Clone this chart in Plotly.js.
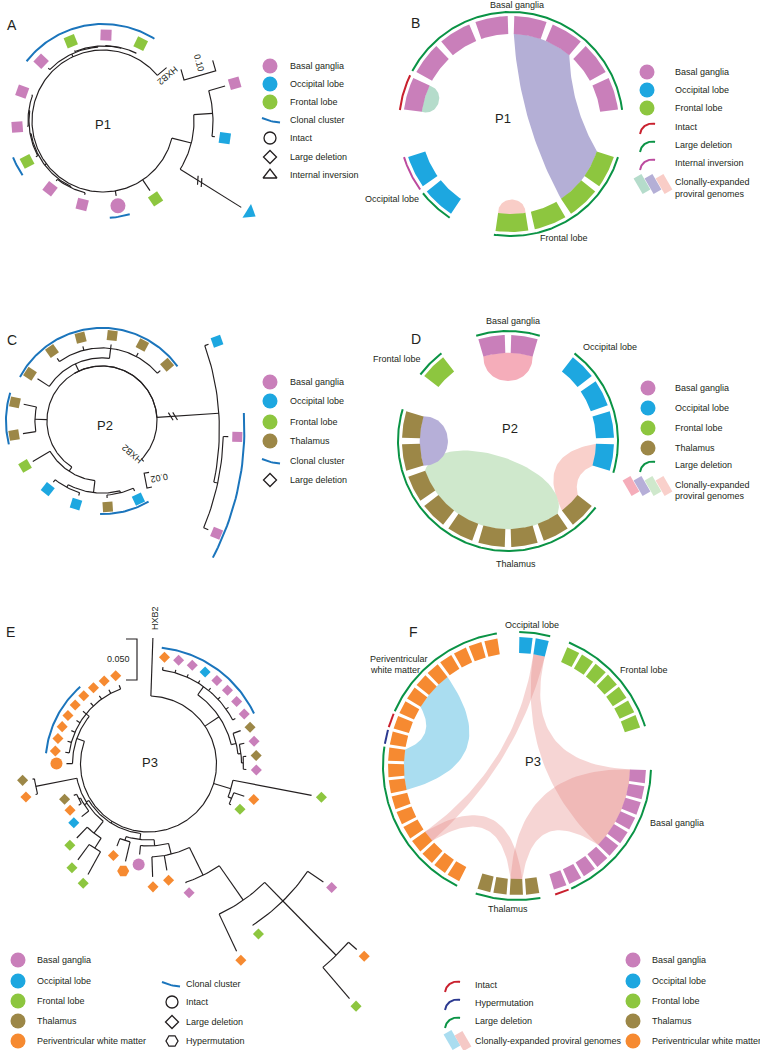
<!DOCTYPE html>
<html>
<head>
<meta charset="utf-8">
<script src="https://cdn.plot.ly/plotly-3.0.1.min.js"></script>
<style>html,body{margin:0;padding:0;background:#fff;}#chart{width:760px;height:1050px;}</style>
</head>
<body>
<div id="chart"></div>
<script>
// ======================= DATA =======================
const tissueCodes  = ["BG","OL","FL","TH","PWM"];
const tissueLabels = ["Basal ganglia","Occipital lobe","Frontal lobe","Thalamus","Periventricular white matter"];
const genomeCodes  = ["I","H","D","V"];
const genomeLabels = ["Intact","Hypermutation","Large deletion","Internal inversion"];
const clonalLabel  = "Clonal cluster";
const cloneLabelLines = ["Clonally-expanded","proviral genomes"];
const cloneLabelOneLine = "Clonally-expanded proviral genomes";

// Phylogenies (Newick). Tip label = tissue_genomeType ; '*' marks a branch drawn with a break.
const treeP1 = "(((BG_D:0.0515,OL_D:0.0091):0.0576,OL_V*:0.45):0.0606,FL_D:0.0394,BG_I:0.0152,((BG_D:0.0061,BG_D:0.0061):0.003,(FL_D:0.0061,(BG_D:0.003,BG_D:0.003):0.003):0.003):0.0061,(BG_D:0.0061,(FL_D:0.003,(BG_D:0.0015,FL_D:0.0015):0.0015):0.003):0.0091,HXB2:0.0364);";
const treeP2 = "(((((OL_D:0.004,TH_D:0.004):0.0027,(OL_D:0.004,OL_D:0.004):0.004):0.016,FL_D:0.0267):0.0067,(TH_D:0.0173,TH_D:0.0173):0.016,(TH_D:0.0187,(TH_D:0.0053,TH_D:0.0053,TH_D:0.0053,TH_D:0.0053,TH_D:0.0053):0.0133):0.0107,(OL_D:0.0053,(BG_D:0.0067,BG_D:0.0067):0.0053)*:0.26):0.0001,HXB2:0.004);";
const treeP3 = "(HXB2:0.0707,((PWM_D:0.0037,BG_D:0.0037,BG_D:0.0037,OL_D:0.0037,BG_D:0.0037,BG_D:0.0037,BG_D:0.0037,BG_D:0.0037):0.0122,(TH_D:0.0098,(BG_D:0.0061,(TH_D:0.0037,BG_D:0.0037):0.0024):0.0037):0.0061):0.0207,(FL_D:0.0976,(PWM_D:0.0134,FL_D:0.0024):0.0049):0.022,(((((((BG_D:0.0232,(PWM_D:0.0134,FL_D:0.05):0.0927,FL_D:0.0006):0.0317,PWM_D:0.05):0.0512,BG_D:0.0012):0.0378,PWM_D:0.0183,PWM_D:0.0244):0.0134,BG_I:0.011):0.0073,(PWM_H:0.0244,PWM_D:0.0098):0.0049):0.0073,(((FL_D:0.0317,FL_D:0.0232):0.0146,FL_D:0.0183):0.0183,(OL_D:0.011,(PWM_D:0.0037,TH_D:0.0037):0.0024):0.0037,(PWM_D:0.0024,TH_D:0.0024):0.0512):0.0037):0.0024,(PWM_I:0.0073,(PWM_D:0.0049,PWM_D:0.0049,PWM_D:0.0049,PWM_D:0.0049,PWM_D:0.0049,PWM_D:0.0049,PWM_D:0.0049,PWM_D:0.0049,PWM_D:0.0049):0.0049):0.0098);";
const clonalTipsP1 = [[4,4],[7,7],[10,13]];
const clonalTipsP2 = [[0,1],[5,6],[7,12],[14,15]];
const clonalTipsP3 = [[0,7],[35,40]];
const scaleBarP1 = 0.10, scaleBarP2 = 0.02, scaleBarP3 = 0.050;

// Circos plots: genomes per tissue (clockwise), genome type per genome, clonal links [grpA,from,to,grpB,from,to]
const circGroupsP1 = ["BG","FL","OL"];
const circCountsP1 = [8,4,2];
const circTypesP1  = ["IDDDDDDD","DDDD","DV"];
const circLinksP1  = [["BG",0,1,"BG",0,1],["BG",4,6,"FL",0,2],["FL",3,4,"FL",3,4]];

const circGroupsP2 = ["BG","OL","TH","FL"];
const circCountsP2 = [2,4,9,1];
const circTypesP2  = ["DD","DDDD","DDDDDDDDD","D"];
const circLinksP2  = [["BG",0,2,"BG",0,2],["OL",3,4,"TH",0,1],["TH",1,7,"TH",1,7],["TH",7,9,"TH",7,9]];

const circGroupsP3 = ["OL","FL","BG","TH","PWM"];
const circCountsP3 = [2,7,10,4,20];
const circTypesP3  = ["DD","DDDDDDD","DDDDDDDDDI","DDDD","DDDDDDDDDDHIDDDDDDDD"];
const circLinksP3  = [["PWM",7,10,"PWM",13,16],["OL",1,2,"PWM",3,4],["OL",1,2,"BG",0,6],["BG",0,6,"TH",1,2],["PWM",3,4,"TH",1,2]];

// ======================= STYLE / LAYOUT =======================
const FONT = "Arial, 'Liberation Sans', Helvetica, sans-serif";
const INK = "#231F20";
const tissueColor = {BG:"#C97FBA", OL:"#1DA7E0", FL:"#8DC63F", TH:"#9C8747", PWM:"#F68A31"};
const typeColor = {I:"#C9202E", H:"#2B3990", D:"#0A9345", V:"#BC4A9E"};
const clonalColor = "#1B75BC";
const linkColorsP1 = ["#B5DCCB","#B4AFD6","#F9CDC7"];
const linkColorsP2 = ["#F5ADBA","#F9D0CB","#CFE8CC","#B6AFD8"];
const linkColorsP3 = ["#AADDF0","rgba(228,128,124,0.33)","rgba(228,128,124,0.33)","rgba(228,128,124,0.33)","rgba(228,128,124,0.33)"];

const treeCfgP1 = {c:[103,121], r0:71, scale:330, a0:74, step:24, hx:410, mo:10, dSym:'square', rot:true, dSize:11, iSize:15, vSize:14, hSize:12, brkDraw:72, brkMark:23, clonalGap:11, ext:6, hxLab:{r:79, a:55, ta:140}};
const treeCfgP2 = {c:[102,421], r0:55, scale:750, a0:155, step:21.18, hx:494, mo:9, dSym:'square', rot:true, dSize:10, iSize:13, vSize:13, hSize:12, brkDraw:62, brkMark:16, clonalGap:7, ext:5, hxLab:{r:44, a:138, ta:-139}};
const treeCfgP3 = {c:[148.5,764], r0:68, scale:820, a0:8.5, step:7.7, hx:2, mo:10, dSym:'diamond', rot:false, dSize:8.5, iSize:12, vSize:12, hSize:12, brkDraw:40, brkMark:15, clonalGap:9, ext:2, hxLab:{r:146, a:2.5, ta:-90}};

const circCfgP1 = {c:[511,124], rIn:90, rOut:108, rLine:112, pitch:21, blockW:17.5, start:-73.5, gaps:[22,22,22], lineW:2, inset:1.2, bp:2};
const circCfgP2 = {c:[508,441], rIn:88, rOut:106, rLine:110, pitch:18, blockW:14.5, start:-9, gaps:[18,18,18,18], lineW:2, inset:1.2, bp:11};
const circCfgP3 = {c:[517,766], rIn:113, rOut:129, rLine:134, pitch:7.3, blockW:5.9, start:4, gaps:[7.3,17.7,5.3,7.4,0], lineW:2, inset:0.6, bp:14};

// ======================= HELPERS =======================
const deg = Math.PI/180;
const linkTraces = [], annotations = [];
const lineGroups = new Map(), fillGroups = new Map();
const mk = {fill:{x:[],y:[],s:[],c:[],z:[],a:[]}, open:{x:[],y:[],s:[],c:[],z:[],a:[]}};

function P(c,r,a){ return [c[0]+r*Math.sin(a*deg), c[1]-r*Math.cos(a*deg)]; }
function arcPts(c,r,a1,a2,st){ const s=st||1.2; const n=Math.max(2,Math.ceil(Math.abs(a2-a1)/s)+1); const o=[]; for(let i=0;i<n;i++) o.push(P(c,r,a1+(a2-a1)*i/(n-1))); return o; }
function adiff(a,b){ return ((b-a)%360+540)%360-180; }
function quad(p0,c,p1,n){ const o=[]; for(let i=0;i<=n;i++){const t=i/n,m=1-t; o.push([m*m*p0[0]+2*m*t*c[0]+t*t*p1[0], m*m*p0[1]+2*m*t*c[1]+t*t*p1[1]]);} return o; }
function cubic(p0,c1,c2,p1,n){ const o=[]; for(let i=0;i<=n;i++){const t=i/n,m=1-t; o.push([m*m*m*p0[0]+3*m*m*t*c1[0]+3*m*t*t*c2[0]+t*t*t*p1[0], m*m*m*p0[1]+3*m*m*t*c1[1]+3*m*t*t*c2[1]+t*t*t*p1[1]]);} return o; }
function addLine(pts,color,width){ const k=color+"|"+width; if(!lineGroups.has(k)) lineGroups.set(k,{color,width,x:[],y:[]}); const g=lineGroups.get(k); pts.forEach(p=>{g.x.push(p[0]);g.y.push(p[1]);}); g.x.push(null); g.y.push(null); }
function addFill(pts,color){ if(!fillGroups.has(color)) fillGroups.set(color,{x:[],y:[]}); const g=fillGroups.get(color); pts.forEach(p=>{g.x.push(p[0]);g.y.push(p[1]);}); g.x.push(null); g.y.push(null); }
function addMarker(x,y,sym,color,size,angle,open){ const m=open?mk.open:mk.fill; m.x.push(x); m.y.push(y); m.s.push(sym); m.c.push(color); m.z.push(size); m.a.push(angle||0); }
function txt(x,y,text,size,o){ annotations.push(Object.assign({x,y,xref:'x',yref:'y',text,showarrow:false,font:{family:FONT,size,color:INK},xanchor:'center',yanchor:'middle'},o||{})); }
function tissueLabel(code){ return tissueLabels[tissueCodes.indexOf(code)]; }
function genomeLabel(code){ return genomeLabels[genomeCodes.indexOf(code)]; }

function parseNewick(str){
  const s=str.trim().replace(/;$/,''); let i=0;
  function node(){
    const n={children:[],name:'',len:0};
    if(s[i]==='('){ i++; n.children.push(node()); while(s[i]===','){ i++; n.children.push(node()); } i++; }
    let name=''; while(i<s.length && ',():'.indexOf(s[i])<0) name+=s[i++]; n.name=name;
    if(s[i]===':'){ i++; let num=''; while(i<s.length && ',()'.indexOf(s[i])<0) num+=s[i++]; n.len=parseFloat(num); }
    return n;
  }
  return node();
}

// ======================= TREES =======================
function drawTree(newick, cfg, clonal, scaleValue, sb){
  const root=parseNewick(newick), C=cfg.c, tips=[]; let k=0;
  (function ang(n){
    if(!n.children.length){ if(n.name==='HXB2') n.ang=cfg.hx; else { n.ang=cfg.a0+(k++)*cfg.step; tips.push(n);} return; }
    n.children.forEach(ang); n.ang=(n.children[0].ang+n.children[n.children.length-1].ang)/2;
  })(root);
  const pt=(r,a,off)=>{ const p=P(C,r,a); return [p[0]+off[0],p[1]+off[1]]; };
  root.r=cfg.r0; root.off=[0,0];
  (function place(n){
    if(!n.children.length) return;
    addLine(arcPts(C,n.r,n.children[0].ang,n.children[n.children.length-1].ang).map(p=>[p[0]+n.off[0],p[1]+n.off[1]]), INK, 1.15);
    n.children.forEach(ch=>{
      const trueR=n.r+ch.len*cfg.scale;
      ch.off=n.off;
      if(ch.name.endsWith('*')){
        const shift=trueR-(n.r+cfg.brkDraw);
        const u=[Math.sin(ch.ang*deg),-Math.cos(ch.ang*deg)];
        ch.off=[n.off[0]-shift*u[0], n.off[1]-shift*u[1]];
        const b=pt(n.r+cfg.brkMark,ch.ang,n.off), t=62*deg;
        const m=[u[0]*Math.cos(t)-u[1]*Math.sin(t), u[0]*Math.sin(t)+u[1]*Math.cos(t)];
        [-2.2,2.2].forEach(s=>{ const q=[b[0]+s*u[0],b[1]+s*u[1]]; addLine([[q[0]-4.5*m[0],q[1]-4.5*m[1]],[q[0]+4.5*m[0],q[1]+4.5*m[1]]],INK,1.15); });
      }
      ch.r=trueR;
      addLine([pt(n.r,ch.ang,n.off), pt(ch.r,ch.ang,ch.off)], INK, 1.15);
      place(ch);
    });
  })(root);
  tips.forEach(t=>{
    const [tis,typ]=t.name.replace('*','').split('_');
    const p=pt(t.r+cfg.mo,t.ang,t.off);
    let sym=cfg.dSym,size=cfg.dSize;
    if(typ==='I'){sym='circle';size=cfg.iSize;} else if(typ==='V'){sym='triangle-up';size=cfg.vSize;} else if(typ==='H'){sym='hexagon2';size=cfg.hSize;}
    addMarker(p[0],p[1],sym,tissueColor[tis],size,cfg.rot?t.ang:0,false);
  });
  clonal.forEach(([i,j])=>{
    let mr=0; for(let q=i;q<=j;q++) mr=Math.max(mr,tips[q].r);
    const off=tips[i].off;
    addLine(arcPts(C,mr+cfg.mo+cfg.clonalGap,tips[i].ang-cfg.ext,tips[j].ang+cfg.ext).map(p=>[p[0]+off[0],p[1]+off[1]]), clonalColor, 2);
  });
  const hp=P(C,cfg.hxLab.r,cfg.hxLab.a);
  txt(hp[0],hp[1],"HXB2",9,{textangle:cfg.hxLab.ta});
  const len=scaleValue*cfg.scale, u=[Math.cos(sb.dir*deg),Math.sin(sb.dir*deg)], nn=[Math.sin(sb.dir*deg),-Math.cos(sb.dir*deg)];
  const a=sb.p, b=[a[0]+len*u[0],a[1]+len*u[1]];
  addLine([[a[0]+sb.tick*nn[0],a[1]+sb.tick*nn[1]],a,b,[b[0]+sb.tick*nn[0],b[1]+sb.tick*nn[1]]],INK,1.15);
  txt(sb.t[0],sb.t[1],scaleValue.toFixed(sb.dec),9,{textangle:sb.ta,xanchor:sb.xa||'center'});
}

// ======================= CIRCOS =======================
function drawCircos(cfg, groups, counts, types, links, colors){
  const C=cfg.c, centers={}; let a=cfg.start;
  groups.forEach((g,gi)=>{ centers[g]=[]; for(let k=0;k<counts[gi];k++){ centers[g].push(a); a+=cfg.pitch; } a+=cfg.gaps[gi]; });
  const hw=cfg.blockW/2;
  const edge=(g,pos,isEnd)=>{ const k=isEnd?Math.ceil(pos)-1:Math.floor(pos); return centers[g][k]-hw+(pos-k)*cfg.blockW; };
  const r=cfg.rIn+0.3;
  const bez=(x,y)=>{ const d=adiff(x,y); const f=Math.pow(Math.max(0,Math.cos(Math.abs(d)/2*deg)),cfg.bp); return quad(P(C,r,x),P(C,r*f,x+d/2),P(C,r,y),40); };
  links.forEach((L,li)=>{
    const a1=edge(L[0],L[1],false), a2=edge(L[0],L[2],true), b1=edge(L[3],L[4],false), b2=edge(L[3],L[5],true);
    let pts;
    if(L[0]===L[3]&&L[1]===L[4]&&L[2]===L[5]){
      const p1=P(C,r,a1), p2=P(C,r,a2), m=[(p1[0]+p2[0])/2,(p1[1]+p2[1])/2];
      const rho=Math.hypot(p2[0]-p1[0],p2[1]-p1[1])/2, depth=Math.min(rho,0.42*r);
      const nl=Math.hypot(C[0]-m[0],C[1]-m[1]), n=[(C[0]-m[0])/nl,(C[1]-m[1])/nl], d=4/3*depth;
      pts=arcPts(C,r,a1,a2).concat(cubic(p2,[p2[0]+d*n[0],p2[1]+d*n[1]],[p1[0]+d*n[0],p1[1]+d*n[1]],p1,40));
    } else {
      pts=[].concat(arcPts(C,r,a1,a2),bez(a2,b1),arcPts(C,r,b1,b2),bez(b2,a1));
    }
    linkTraces.push({type:'scatter',mode:'lines',x:pts.map(p=>p[0]),y:pts.map(p=>p[1]),fill:'toself',fillcolor:colors[li],line:{width:0,color:'rgba(0,0,0,0)'},hoverinfo:'skip'});
  });
  groups.forEach((g,gi)=>{
    centers[g].forEach(ca=>{ addFill(arcPts(C,cfg.rOut,ca-hw,ca+hw,0.8).concat(arcPts(C,cfg.rIn,ca+hw,ca-hw,0.8)), tissueColor[g]); });
    const t=types[gi]; let s=0;
    for(let k=1;k<=t.length;k++){
      if(k===t.length||t[k]!==t[s]){
        addLine(arcPts(C,cfg.rLine,centers[g][s]-cfg.pitch/2+cfg.inset,centers[g][k-1]+cfg.pitch/2-cfg.inset,0.8),typeColor[t[s]],cfg.lineW);
        s=k;
      }
    }
  });
}

// ======================= LEGEND HELPERS =======================
function legCircles(x,tx,ys,codes){ codes.forEach((cd,i)=>{ addMarker(x,ys[i],'circle',tissueColor[cd],15,0,false); txt(tx,ys[i],tissueLabel(cd),9,{xanchor:'left'}); }); }
function legClonal(x0,y,tx){ addLine(quad([x0,y-2],[x0+9,y+2],[x0+18,y+2.5],10),clonalColor,2); txt(tx,y,clonalLabel,9,{xanchor:'left'}); }
function legOpen(x,y,tx,sym,size,label){ addMarker(x,y,sym,INK,size,0,true); txt(tx,y,label,9,{xanchor:'left'}); }
function legArc(x0,ty,tx,code){ const y0=ty+7; addLine(arcPts([x0+11.9,y0+1.6],12,-82,15,4),typeColor[code],2); txt(tx,ty,genomeLabel(code),9,{xanchor:'left'}); }
function legRibbon(cx,cy,color){ const t=-30*deg, w=4.5, h=9; const pts=[[-w,-h],[w,-h],[w,h],[-w,h]].map(([x,y])=>[cx+x*Math.cos(t)-y*Math.sin(t), cy+x*Math.sin(t)+y*Math.cos(t)]); addFill(pts,color); }

// ======================= PANELS =======================
// A
drawTree(treeP1, treeCfgP1, clonalTipsP1, scaleBarP1, {p:[184,80],dir:-16,tick:11,t:[199,63],ta:74,dec:2});
txt(103,124,"P1",13);
legCircles(270,288,[66,84,102],["BG","OL","FL"]);
legClonal(262,120,288);
legOpen(270,138,288,'circle-open',12,genomeLabel("I"));
legOpen(270,157,288,'diamond-open',10,genomeLabel("D"));
legOpen(270,175,288,'triangle-up-open',12,genomeLabel("V"));

// B
drawCircos(circCfgP1, circGroupsP1, circCountsP1, circTypesP1, circLinksP1, linkColorsP1);
txt(503,118,"P1",13);
txt(517,5,tissueLabel("BG"),9);
txt(421,199,tissueLabel("OL"),9,{xanchor:'right'});
txt(564,238,tissueLabel("FL"),9);
legCircles(647,673,[72,90,108],["BG","OL","FL"]);
legArc(640,127,673,"I"); legArc(640,145,673,"D"); legArc(640,163,673,"V");
linkColorsP1.forEach((c,i)=>legRibbon(642+11*i,184,c));
txt(673,182,cloneLabelLines[0],9,{xanchor:'left'}); txt(673,194,cloneLabelLines[1],9,{xanchor:'left'});

// C
drawTree(treeP2, treeCfgP2, clonalTipsP2, scaleBarP2, {p:[147,488],dir:-101,tick:-5,t:[159,478],ta:170,dec:2});
txt(105,425,"P2",13);
legCircles(270,288,[382,401,422,441],["BG","OL","FL","TH"]);
legClonal(262,461,288);
legOpen(270,480,288,'diamond-open',10,genomeLabel("D"));

// D
drawCircos(circCfgP2, circGroupsP2, circCountsP2, circTypesP2, circLinksP2, linkColorsP2);
txt(510,428,"P2",13);
txt(513,321,tissueLabel("BG"),9);
txt(610,347,tissueLabel("OL"),9);
txt(423,359,tissueLabel("FL"),9,{xanchor:'right'});
txt(516,564,tissueLabel("TH"),9);
legCircles(648,673,[388,408,428,448],["BG","OL","FL","TH"]);
legArc(640,465,673,"D");
[linkColorsP2[0],linkColorsP2[3],linkColorsP2[2],linkColorsP2[1]].forEach((c,i)=>legRibbon(631+11*i,486,c));
txt(673,485,cloneLabelLines[0],9,{xanchor:'left'}); txt(673,496,cloneLabelLines[1],9,{xanchor:'left'});

// E
drawTree(treeP3, treeCfgP3, clonalTipsP3, scaleBarP3, {p:[137,639],dir:90,tick:-11,t:[132,659],ta:0,dec:3,xa:'right'});
txt(150,762,"P3",13);
legCircles(18,35,[960,981,1001,1021,1041],["BG","OL","FL","TH","PWM"]);
legClonal(162,984,184);
legOpen(172,1002,184,'circle-open',12,genomeLabel("I"));
legOpen(172,1022,184,'diamond-open',10,genomeLabel("D"));
legOpen(172,1041,184,'hexagon2-open',12,genomeLabel("H"));

// F
drawCircos(circCfgP3, circGroupsP3, circCountsP3, circTypesP3, circLinksP3, linkColorsP3);
txt(533,761,"P3",13);
txt(532,625,tissueLabel("OL"),9);
txt(618,670,tissueLabel("FL"),9,{xanchor:'left'});
txt(648,823,tissueLabel("BG"),9,{xanchor:'left'});
txt(368,659,"Periventricular",9,{xanchor:'left'});
txt(368,670,"white matter",9,{xanchor:'left'});
txt(508,909,tissueLabel("TH"),9);
legArc(445,985,473,"I"); legArc(445,1003,473,"H"); legArc(445,1021,473,"D");
legRibbon(452,1040,linkColorsP3[0]); legRibbon(463,1041,"#F5C9C6");
txt(473,1041,cloneLabelOneLine,9,{xanchor:'left'});
legCircles(633,650,[960,981,1001,1021,1041],["BG","OL","FL","TH","PWM"]);

// panel letters
[["A",5,25],["B",409,23],["C",5,340],["D",409,339],["E",4,632],["F",407,632]].forEach(([l,x,y])=>txt(x,y,l,14,{xanchor:'left'}));

// ======================= BUILD =======================
const traces=[...linkTraces];
fillGroups.forEach((g,color)=>traces.push({type:'scatter',mode:'lines',x:g.x,y:g.y,fill:'toself',fillcolor:color,line:{width:0,color:'rgba(0,0,0,0)'},hoverinfo:'skip'}));
lineGroups.forEach(g=>traces.push({type:'scatter',mode:'lines',x:g.x,y:g.y,line:{color:g.color,width:g.width},connectgaps:false,hoverinfo:'skip'}));
traces.push({type:'scatter',mode:'markers',x:mk.fill.x,y:mk.fill.y,marker:{symbol:mk.fill.s,color:mk.fill.c,size:mk.fill.z,angle:mk.fill.a,opacity:1,line:{width:0}},hoverinfo:'skip'});
traces.push({type:'scatter',mode:'markers',x:mk.open.x,y:mk.open.y,marker:{symbol:mk.open.s,color:mk.open.c,size:mk.open.z,angle:mk.open.a,opacity:1,line:{width:1.3,color:INK}},hoverinfo:'skip'});

const layout={width:760,height:1050,margin:{l:0,r:0,t:0,b:0},paper_bgcolor:'#ffffff',plot_bgcolor:'#ffffff',showlegend:false,
  xaxis:{range:[0,760],visible:false,fixedrange:true},yaxis:{range:[1050,0],visible:false,fixedrange:true},annotations};
Plotly.newPlot('chart',traces,layout,{staticPlot:true,displayModeBar:false});
</script>
</body>
</html>
